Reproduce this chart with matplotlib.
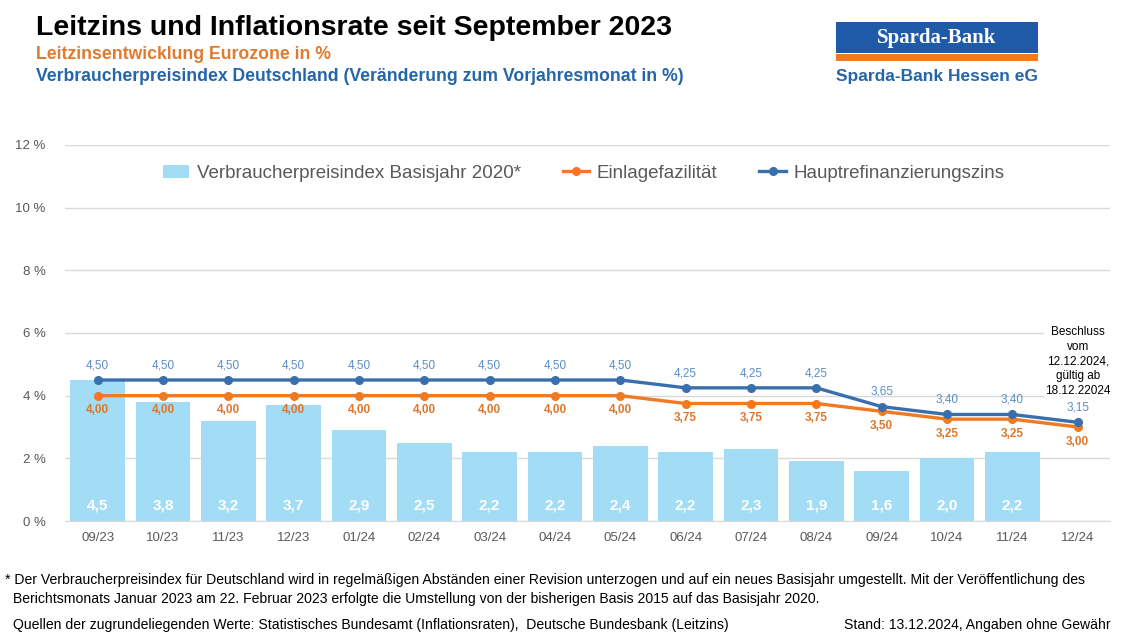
import matplotlib
matplotlib.use("Agg")
import matplotlib.pyplot as plt
from matplotlib.patches import Rectangle
import numpy as np

plt.rcParams['font.family'] = ['Liberation Sans', 'DejaVu Sans']

months = ["09/23", "10/23", "11/23", "12/23", "01/24", "02/24", "03/24", "04/24",
          "05/24", "06/24", "07/24", "08/24", "09/24", "10/24", "11/24", "12/24"]
cpi = [4.5, 3.8, 3.2, 3.7, 2.9, 2.5, 2.2, 2.2, 2.4, 2.2, 2.3, 1.9, 1.6, 2.0, 2.2, np.nan]
einlage = [4.00, 4.00, 4.00, 4.00, 4.00, 4.00, 4.00, 4.00, 4.00, 3.75, 3.75, 3.75, 3.50, 3.25, 3.25, 3.00]
hrz = [4.50, 4.50, 4.50, 4.50, 4.50, 4.50, 4.50, 4.50, 4.50, 4.25, 4.25, 4.25, 3.65, 3.40, 3.40, 3.15]
yticks = [0, 2, 4, 6, 8, 10, 12]

BAR = "#A3DDF5"
ORANGE = "#F07A22"
BLUE = "#3A6FAE"
BLUE_LBL = "#5A8EC4"
ORANGE_LBL = "#E0762A"
GRAY = "#595959"

fig = plt.figure(figsize=(11.4, 6.41), dpi=100)
ax = fig.add_axes([0.057, 0.1872, 0.917, 0.5866])

x = np.arange(len(months))
bars = ax.bar(x, cpi, width=0.84, color=BAR, label="Verbraucherpreisindex Basisjahr 2020*", zorder=2)
l1, = ax.plot(x, einlage, color=ORANGE, lw=2.4, marker='o', ms=5.5, label="Einlagefazilität", zorder=3)
l2, = ax.plot(x, hrz, color=BLUE, lw=2.4, marker='o', ms=5.5, label="Hauptrefinanzierungszins", zorder=4)

for xi, v in zip(x, cpi):
    if not np.isnan(v):
        ax.text(xi, 0.5, f"{v:.1f}".replace('.', ','), ha='center', va='center',
                color='white', fontsize=11, fontweight='bold', zorder=5)
for xi, v in zip(x, hrz):
    ax.text(xi, v + 0.47, f"{v:.2f}".replace('.', ','), ha='center', va='center',
            color=BLUE_LBL, fontsize=8.5, zorder=5)
for xi, v in zip(x, einlage):
    ax.text(xi, v - 0.47, f"{v:.2f}".replace('.', ','), ha='center', va='center',
            color=ORANGE_LBL, fontsize=8.5, fontweight='bold', zorder=5)

ax.text(x[-1], 5.1, "Beschluss\nvom\n12.12.2024,\ngültig ab\n18.12.22024", ha='center', va='center',
        fontsize=8.5, color='black', linespacing=1.3, zorder=6,
        bbox=dict(facecolor='white', edgecolor='none', pad=0.5))

ax.set_xlim(-0.5, len(months) - 0.5)
ax.set_ylim(0, 12)
ax.set_xticks(x)
ax.set_xticklabels(months)
ax.set_yticks(yticks)
ax.set_yticklabels([f"{t} %" for t in yticks])
ax.tick_params(axis='both', colors=GRAY, labelsize=9.5, length=0)
ax.tick_params(axis='x', pad=8)
ax.tick_params(axis='y', pad=14)
ax.yaxis.grid(True, color="#D9D9D9", lw=1)
ax.set_axisbelow(True)
for s in ['top', 'right', 'left']:
    ax.spines[s].set_visible(False)
ax.spines['bottom'].set_color("#D9D9D9")

leg = ax.legend(handles=[bars, l1, l2], loc='center', bbox_to_anchor=(0.496, 0.925), ncol=3,
                frameon=False, fontsize=13.5, labelcolor=GRAY, handlelength=1.4,
                columnspacing=2.25, handletextpad=0.4)

# Titles
fig.text(0.032, 0.957, "Leitzins und Inflationsrate seit September 2023", fontsize=20.5,
         fontweight='bold', color='black', va='center')
fig.text(0.032, 0.915, "Leitzinsentwicklung Eurozone in %", fontsize=12.7,
         fontweight='bold', color="#E07A2E", va='center')
fig.text(0.032, 0.880, "Verbraucherpreisindex Deutschland (Veränderung zum Vorjahresmonat in %)",
         fontsize=12.7, fontweight='bold', color="#2566A8", va='center')

# Logo
fig.patches.append(Rectangle((836/1140, 1-53/641), 202/1140, 31/641, transform=fig.transFigure,
                             facecolor="#1E5AA8", edgecolor='none'))
fig.patches.append(Rectangle((836/1140, 1-61/641), 202/1140, 7/641, transform=fig.transFigure,
                             facecolor="#F07A22", edgecolor='none'))
fig.text(937/1140, 1-38/641, "Sparda-Bank", fontsize=15, fontweight='bold', color='white',
         family=['Liberation Serif', 'DejaVu Serif'], ha='center', va='center')
fig.text(937/1140, 1-76/641, "Sparda-Bank Hessen eG", fontsize=12.5, fontweight='bold',
         color="#2566A8", ha='center', va='center')

# Footnotes
fs = 10.1
fig.text(5/1140, 1-580/641, "* Der Verbraucherpreisindex für Deutschland wird in regelmäßigen Abständen einer Revision unterzogen und auf ein neues Basisjahr umgestellt. Mit der Veröffentlichung des",
         fontsize=fs, color='black', va='center')
fig.text(13/1140, 1-599/641, "Berichtsmonats Januar 2023 am 22. Februar 2023 erfolgte die Umstellung von der bisherigen Basis 2015 auf das Basisjahr 2020.",
         fontsize=fs, color='black', va='center')
fig.text(13/1140, 1-625/641, "Quellen der zugrundeliegenden Werte: Statistisches Bundesamt (Inflationsraten),  Deutsche Bundesbank (Leitzins)",
         fontsize=fs, color='black', va='center')
fig.text(1111/1140, 1-625/641, "Stand: 13.12.2024, Angaben ohne Gewähr",
         fontsize=fs, color='black', va='center', ha='right')

fig.savefig("out.png", dpi=100)
